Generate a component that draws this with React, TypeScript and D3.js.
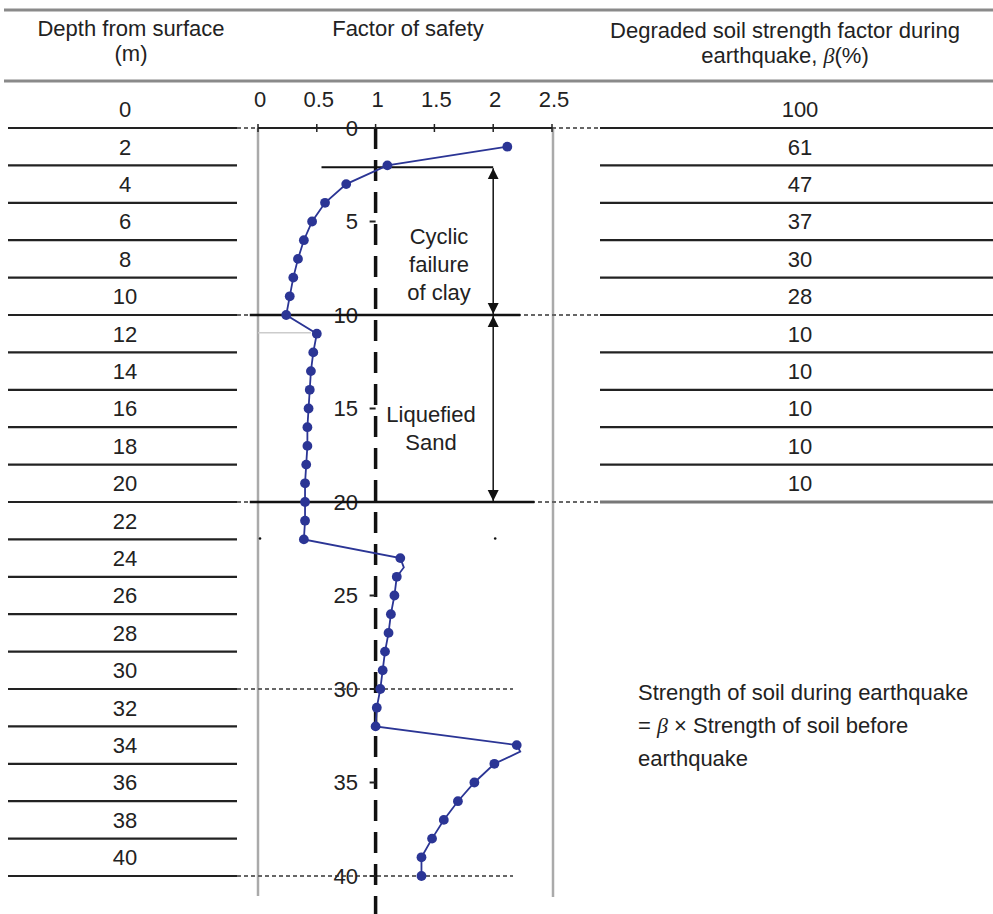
import * as d3 from 'd3';

// table rows (depth from surface, m)
const depthRows = [0, 2, 4, 6, 8, 10, 12, 14, 16, 18, 20, 22, 24, 26, 28, 30, 32, 34, 36, 38, 40];
// degraded strength factor beta (%) for the first rows
const betaValues = [100, 61, 47, 37, 30, 28, 10, 10, 10, 10, 10];

// factor of safety profile
const fsDepth = [1, 2, 3, 4, 5, 6, 7, 8, 9, 10, 11, 12, 13, 14, 15, 16, 17, 18, 19, 20, 21, 22,
  23, 23.5, 24, 25, 26, 27, 28, 29, 30, 31, 32, 33, 33.35, 34, 35, 36, 37, 38, 39, 40];
const fsValue = [2.12, 1.10, 0.75, 0.57, 0.46, 0.39, 0.34, 0.30, 0.27, 0.24, 0.50, 0.47, 0.45, 0.44, 0.43, 0.42, 0.42, 0.41, 0.40, 0.40, 0.40, 0.39,
  1.21, 1.24, 1.18, 1.16, 1.13, 1.11, 1.08, 1.06, 1.04, 1.01, 1.00, 2.20, 2.23, 2.01, 1.84, 1.70, 1.58, 1.48, 1.39, 1.39];
const noMarker = [23.5, 33.35];

const fsTicks = [0, 0.5, 1, 1.5, 2, 2.5];
const depthTicks = [0, 5, 10, 15, 20, 25, 30, 35, 40];

const W = 993;
const H = 914;
const font = '"Liberation Sans", Arial, sans-serif';
const ink = '#222';
const blue = '#2b3595';
const fs = 22;

export default function App() {
  const y = d3.scaleLinear().domain([0, 40]).range([128, 876]);
  const x = d3.scaleLinear().domain([0, 2.5]).range([258, 552]);

  const pts = fsDepth.map((d, i) => ({ depth: d, fs: fsValue[i] }));
  const line = d3.line<{ depth: number; fs: number }>()
    .x(d => x(d.fs))
    .y(d => y(d.depth));

  const arrowX = x(2);

  return (
    <svg width={W} height={H} style={{ position: 'absolute', left: 0, top: 0, background: '#fff' }}
      fontFamily={font} fill={ink}>
      <defs>
        <marker id="ah" viewBox="0 0 10 10" refX="10" refY="5" markerWidth="11" markerHeight="12"
          orient="auto-start-reverse" markerUnits="userSpaceOnUse">
          <path d="M0,0 L10,5 L0,10 z" fill="#111" />
        </marker>
      </defs>

      {/* header rules */}
      <line x1={4} x2={W} y1={10} y2={10} stroke="#8a8a8a" strokeWidth={3} />
      <line x1={4} x2={W} y1={81} y2={81} stroke="#8a8a8a" strokeWidth={3} />

      {/* headers */}
      <g fontSize={fs} textAnchor="middle">
        <text x={131} y={36}>Depth from surface</text>
        <text x={131} y={61}>(m)</text>
        <text x={408} y={36}>Factor of safety</text>
        <text x={785} y={38}>Degraded soil strength factor during</text>
        <text x={785} y={63}>earthquake, <tspan fontStyle="italic" fontFamily="'Liberation Serif', serif">β</tspan>(%)</text>
      </g>

      {/* frame of FS plot */}
      <line x1={x(0)} x2={x(0)} y1={y(0)} y2={896} stroke="#aaa" strokeWidth={2.5} />
      <line x1={x(2.5) + 1} x2={x(2.5) + 1} y1={y(0)} y2={897} stroke="#aaa" strokeWidth={2.5} />

      {/* dotted layer boundaries */}
      {[0, 10, 20].map(d => (
        <line key={'dl' + d} x1={90} x2={600} y1={y(d)} y2={y(d)} stroke="#666" strokeWidth={2} strokeDasharray="4,3" />
      ))}
      {[30, 40].map(d => (
        <line key={'dl' + d} x1={90} x2={513} y1={y(d)} y2={y(d)} stroke="#666" strokeWidth={2} strokeDasharray="4,3" />
      ))}

      {/* left table */}
      {depthRows.map(d => (
        <g key={'r' + d}>
          <line x1={8} x2={237} y1={y(d)} y2={y(d)} stroke={ink} strokeWidth={2.2} />
          <text x={125} y={y(d - 1)} dy="0.36em" fontSize={fs} textAnchor="middle">{d}</text>
        </g>
      ))}

      {/* right table */}
      {betaValues.map((b, i) => (
        <g key={'b' + i}>
          <line x1={600} x2={W} y1={y(i * 2)} y2={y(i * 2)} stroke={ink} strokeWidth={2.2} />
          <text x={800} y={y(i * 2 - 1)} dy="0.36em" fontSize={fs} textAnchor="middle">{b}</text>
        </g>
      ))}
      <line x1={600} x2={W} y1={y(20)} y2={y(20)} stroke="#777" strokeWidth={3} />

      {/* x axis on top */}
      <line x1={x(0)} x2={x(2.5)} y1={y(0)} y2={y(0)} stroke={ink} strokeWidth={2} />
      {fsTicks.map(t => (
        <g key={'xt' + t}>
          <line x1={x(t)} x2={x(t)} y1={y(0) - 4} y2={y(0) + 4} stroke={ink} strokeWidth={1.5} />
          <text x={x(t) + 2} y={107} fontSize={fs} textAnchor="middle">{t}</text>
        </g>
      ))}

      {/* FS = 1 dashed line with depth ticks */}
      <line x1={x(1)} x2={x(1)} y1={y(0)} y2={H} stroke="#111" strokeWidth={3.5} strokeDasharray="21,11" />
      {depthTicks.map(t => (
        <g key={'yt' + t}>
          <line x1={x(1) - 6} x2={x(1)} y1={y(t)} y2={y(t)} stroke={ink} strokeWidth={2} />
          <text x={358} y={y(t)} dy="0.36em" fontSize={fs} textAnchor="end">{t}</text>
        </g>
      ))}

      {/* layer boundary lines */}
      <line x1={x(0.54)} x2={arrowX} y1={y(2.1)} y2={y(2.1)} stroke="#111" strokeWidth={2} />
      <line x1={x(-0.07)} x2={x(2.23)} y1={y(10)} y2={y(10)} stroke="#111" strokeWidth={2.5} />
      <line x1={x(-0.07)} x2={x(2.35)} y1={y(20)} y2={y(20)} stroke="#111" strokeWidth={2.5} />
      <line x1={x(0)} x2={x(0.45)} y1={y(10.95)} y2={y(10.95)} stroke="#ccc" strokeWidth={1.5} />

      {/* small marks */}
      {[0, 2].map(t => (
        <circle key={'m' + t} cx={x(t) + 2} cy={y(21.95)} r={1.3} fill="#111" />
      ))}

      {/* arrows */}
      <line x1={arrowX} x2={arrowX} y1={y(2.1) + 1} y2={y(10) - 1} stroke="#111" strokeWidth={1.5}
        markerStart="url(#ah)" markerEnd="url(#ah)" />
      <line x1={arrowX} x2={arrowX} y1={y(10) + 1} y2={y(20) - 1} stroke="#111" strokeWidth={1.5}
        markerStart="url(#ah)" markerEnd="url(#ah)" />

      {/* annotations */}
      <g fontSize={fs} textAnchor="middle">
        <text x={439} y={244}>Cyclic</text>
        <text x={439} y={272}>failure</text>
        <text x={439} y={300}>of clay</text>
        <text x={431} y={422}>Liquefied</text>
        <text x={431} y={450}>Sand</text>
      </g>

      {/* FS profile */}
      <path d={line(pts) || ''} fill="none" stroke={blue} strokeWidth={1.8} />
      {pts.filter(p => !noMarker.includes(p.depth)).map((p, i) => (
        <circle key={'p' + i} cx={x(p.fs)} cy={y(p.depth)} r={4.9} fill={blue} />
      ))}

      {/* note */}
      <g fontSize={fs}>
        <text x={638} y={700}>Strength of soil during earthquake</text>
        <text x={638} y={733}>= <tspan fontStyle="italic" fontFamily="'Liberation Serif', serif">β</tspan> × Strength of soil before</text>
        <text x={638} y={766}>earthquake</text>
      </g>
    </svg>
  );
}
